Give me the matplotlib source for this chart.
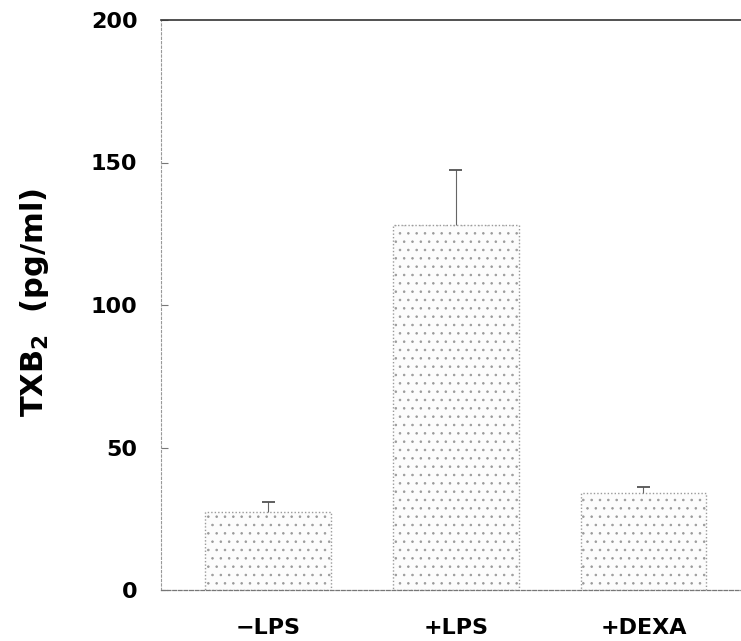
import matplotlib
matplotlib.use("Agg")
import matplotlib.pyplot as plt
import numpy as np

categories = ["\u2212LPS", "+LPS", "+DEXA"]
values = [27.5, 128, 34]
errors = [3.5, 19.5, 2.3]
yticks = [0, 50, 100, 150, 200]

plt.rcParams['hatch.color'] = '#c4c4c4'
plt.rcParams['hatch.linewidth'] = 0.6

fig = plt.figure(figsize=(7.41, 6.41), dpi=100)
ax = fig.add_axes([161/741, 1 - 590/641, (741-161)/741, (590-20)/641])

x = np.arange(len(categories))
ax.bar(x, values, width=0.67, color='#fcfcfc', edgecolor='#9a9a9a',
       linewidth=1.0, linestyle=(0, (1, 1.5)), hatch='..')
tops = np.array(values) + np.array(errors)
ax.vlines(x, values, tops, color='#666666', linewidth=0.8)
ax.hlines(tops, x - 0.035, x + 0.035, color='#444444', linewidth=1.2)

ax.set_xlim(-0.572, 2.52)
ax.set_ylim(0, 200)
ax.set_yticks(yticks)
ax.set_yticklabels([str(v) for v in yticks])
ax.set_xticks(x)
ax.set_xticklabels(categories)

ax.spines['right'].set_visible(False)
ax.spines['top'].set_color('#333333')
ax.spines['top'].set_linewidth(1.2)
ax.spines['left'].set_color('#999999')
ax.spines['left'].set_linestyle((0, (2, 2)))
ax.spines['left'].set_linewidth(0.8)
ax.spines['bottom'].set_color('#777777')
ax.spines['bottom'].set_linestyle((0, (3, 1.5)))
ax.spines['bottom'].set_linewidth(0.9)

ax.tick_params(axis='y', direction='in', length=5, width=0.8, color='#777777', pad=17)
ax.tick_params(axis='x', length=0, pad=20)
for lab in ax.get_yticklabels():
    lab.set_fontweight('bold')
    lab.set_fontsize(16)
for lab in ax.get_xticklabels():
    lab.set_fontweight('bold')
    lab.set_fontsize(16)

ax.set_ylabel(r'TXB$_\mathbf{2}$  (pg/ml)', fontsize=22, fontweight='bold')
ax.yaxis.set_label_coords(-0.19, 0.505)

fig.savefig('out.png', dpi=100)
